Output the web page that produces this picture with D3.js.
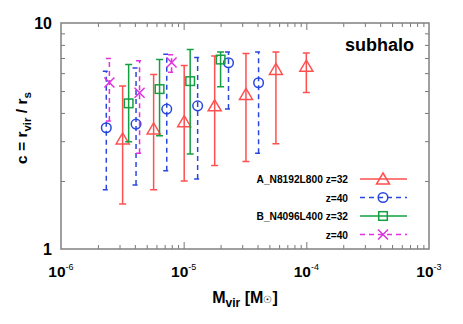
<!DOCTYPE html>
<html>
<head>
<meta charset="utf-8">
<script src="https://cdn.jsdelivr.net/npm/d3@7"></script>
<style>
 body { margin:0; background:#fff; }
 text { font-family: "Liberation Sans", Arial, sans-serif; }
</style>
</head>
<body>
<script>

// series: mass, c, lower, upper
var seriesNames = ['A_N8192L800 z=32', 'z=40', 'B_N4096L400 z=32', 'z=40']

var massA32 = [3.18e-6, 5.69e-6, 1.01e-5, 1.79e-5, 3.22e-5, 5.65e-5, 1.0e-4]
var cA32    = [3.07, 3.40, 3.66, 4.30, 4.83, 6.23, 6.44]
var loA32   = [1.58, 1.83, 2.00, 2.34, 2.44, 2.92, 4.93]
var hiA32   = [5.26, 5.92, 6.49, 7.15, 7.33, 7.45, 7.37]

var massA40 = [2.34e-6, 4.09e-6, 7.28e-6, 1.30e-5, 2.32e-5, 4.08e-5]
var cA40    = [3.44, 3.57, 4.16, 4.30, 6.67, 5.44]
var loA40   = [1.83, 1.92, 2.22, 2.04, 4.16, 2.65]
var hiA40   = [6.12, 6.33, 7.28, 7.03, 7.45, 7.45]

var massB32 = [3.56e-6, 6.36e-6, 1.13e-5, 2.0e-5]
var cB32    = [4.41, 5.10, 5.53, 6.89]
var loB32   = [2.98, 3.17, 2.63, 5.22]
var hiB32   = [6.55, 6.89, 7.63, 7.45]

var massB40 = [2.48e-6, 4.37e-6, 7.97e-6]
var cB40    = [5.45, 4.91, 6.69]
var loB40   = [3.68, 2.65, 6.06]
var hiB40   = [6.96, 6.80, 7.24]

var xDecades = [-6, -5, -4, -3]
var yTicks = ['1', '10']

var W = 463, H = 324
var L = 61, R = 429, T = 23, B = 249

var svg = d3.select('body').append('svg').attr('width', W).attr('height', H)

var x = d3.scaleLog().domain([1e-6, 1e-3]).range([L, R])
var y = d3.scaleLog().domain([1, 10]).range([B, T])

// minor + major ticks
var xMinor = [], xMajor = []
for (var e=-6;e<-3;e++) { for (var k=2;k<10;k++) xMinor.push(k*Math.pow(10,e)) }
for (var e=-5;e<-3;e++) xMajor.push(Math.pow(10,e))
var yMinor = [2,3,4,5,6,7,8,9]

var tickCol = '#777'
var ax = svg.append('g')
function axisG(axis, tr) {
  var g = ax.append('g').attr('transform', tr).call(axis)
  g.selectAll('text').remove()
  g.select('.domain').remove()
  g.selectAll('line').attr('stroke', tickCol).attr('stroke-width', 1)
}
axisG(d3.axisBottom(x).tickValues(xMinor).tickSize(-4), 'translate(0,'+B+')')
axisG(d3.axisBottom(x).tickValues(xMajor).tickSize(-7), 'translate(0,'+B+')')
axisG(d3.axisTop(x).tickValues(xMinor).tickSize(-4), 'translate(0,'+T+')')
axisG(d3.axisTop(x).tickValues(xMajor).tickSize(-7), 'translate(0,'+T+')')
axisG(d3.axisLeft(y).tickValues(yMinor).tickSize(-4), 'translate('+L+',0)')
axisG(d3.axisRight(y).tickValues(yMinor).tickSize(-4), 'translate('+R+',0)')

svg.append('rect').attr('x', L).attr('y', T).attr('width', R-L).attr('height', B-T)
  .attr('fill', 'none').attr('stroke', '#808080').attr('stroke-width', 1.5)

// tick labels
xDecades.forEach(function(e) {
  var t = svg.append('text').attr('x', x(Math.pow(10,e))).attr('y', 277)
    .attr('text-anchor', 'middle').attr('font-size', 15.5).attr('font-weight', 'bold')
  t.append('tspan').text('10')
  t.append('tspan').attr('dy', -7).attr('font-size', 9).attr('font-weight', 'normal').text(String(e))
})
yTicks.forEach(function(v) {
  svg.append('text').attr('x', 52).attr('y', y(+v) + 6).attr('text-anchor', 'end')
    .attr('font-size', 16).attr('font-weight', 'bold').text(v)
})

// axis titles
var xl = svg.append('text').attr('x', 245).attr('y', 303).attr('text-anchor', 'middle')
  .attr('font-size', 16).attr('font-weight', 'bold')
xl.append('tspan').text('M')
xl.append('tspan').attr('dy', 4).attr('font-size', 12).text('vir')
xl.append('tspan').attr('dy', -4).text(' [M')
xl.append('tspan').attr('font-size', 10).attr('font-weight', 'normal').text('\u2609')
xl.append('tspan').text(']')

var yl = svg.append('text').attr('transform', 'translate(27,128) rotate(-90)').attr('text-anchor', 'middle')
  .attr('font-size', 15.5).attr('font-weight', 'bold')
yl.append('tspan').text('c = r')
yl.append('tspan').attr('dy', 4).attr('font-size', 11.5).text('vir')
yl.append('tspan').attr('dy', -4).text(' / r')
yl.append('tspan').attr('dy', 4).attr('font-size', 11.5).text('s')

svg.append('text').attr('x', 414).attr('y', 51).attr('text-anchor', 'end')
  .attr('font-size', 18).attr('font-weight', 'bold').text('subhalo')

// series
var series = [
  {m: massA32, c: cA32, lo: loA32, hi: hiA32, col: '#ff5050', dash: null, sym: 'tri'},
  {m: massA40, c: cA40, lo: loA40, hi: hiA40, col: '#2847e0', dash: '5,4', sym: 'circ'},
  {m: massB32, c: cB32, lo: loB32, hi: hiB32, col: '#13a040', dash: null, sym: 'sq'},
  {m: massB40, c: cB40, lo: loB40, hi: hiB40, col: '#e030e0', dash: '5,4', sym: 'x'}
]

function marker(g, sym, cx, cy, col) {
  var s
  if (sym == 'tri') {
    s = g.append('path').attr('d', 'M'+cx+','+(cy-6)+' L'+(cx+6.5)+','+(cy+5)+' L'+(cx-6.5)+','+(cy+5)+' Z')
  } else if (sym == 'circ') {
    s = g.append('circle').attr('cx', cx).attr('cy', cy).attr('r', 4.8)
  } else if (sym == 'sq') {
    s = g.append('rect').attr('x', cx-4.3).attr('y', cy-4.3).attr('width', 8.6).attr('height', 8.6)
  } else {
    s = g.append('path').attr('d', 'M'+(cx-5)+','+(cy-5)+' L'+(cx+5)+','+(cy+5)+' M'+(cx-5)+','+(cy+5)+' L'+(cx+5)+','+(cy-5))
  }
  s.attr('fill', 'none').attr('stroke', col).attr('stroke-width', 1.5)
}

series.forEach(function(s) {
  var g = svg.append('g')
  for (var i=0;i<s.m.length;i++) {
    var px = x(s.m[i])
    var eb = g.append('path')
      .attr('d', 'M'+px+','+y(s.lo[i])+' L'+px+','+y(s.hi[i]) +
                 ' M'+(px-3.5)+','+y(s.lo[i])+' L'+(px+3.5)+','+y(s.lo[i]) +
                 ' M'+(px-3.5)+','+y(s.hi[i])+' L'+(px+3.5)+','+y(s.hi[i]))
      .attr('fill', 'none').attr('stroke', s.col).attr('stroke-width', 1.5)
    if (s.dash) eb.attr('stroke-dasharray', s.dash)
    marker(g, s.sym, px, y(s.c[i]), s.col)
  }
})

// legend
var legY = [179, 197.5, 216, 234.5]
series.forEach(function(s, i) {
  var ly = legY[i]
  svg.append('text').attr('x', 348).attr('y', ly + 4).attr('text-anchor', 'end')
    .attr('font-size', 10.2).attr('font-weight', 'bold').text(seriesNames[i])
  var ln = svg.append('line').attr('x1', 360).attr('x2', 407).attr('y1', ly).attr('y2', ly)
    .attr('stroke', s.col).attr('stroke-width', 1.5)
  if (s.dash) ln.attr('stroke-dasharray', s.dash)
  marker(svg, s.sym, 383, ly, s.col)
})
</script>
</body>
</html>
